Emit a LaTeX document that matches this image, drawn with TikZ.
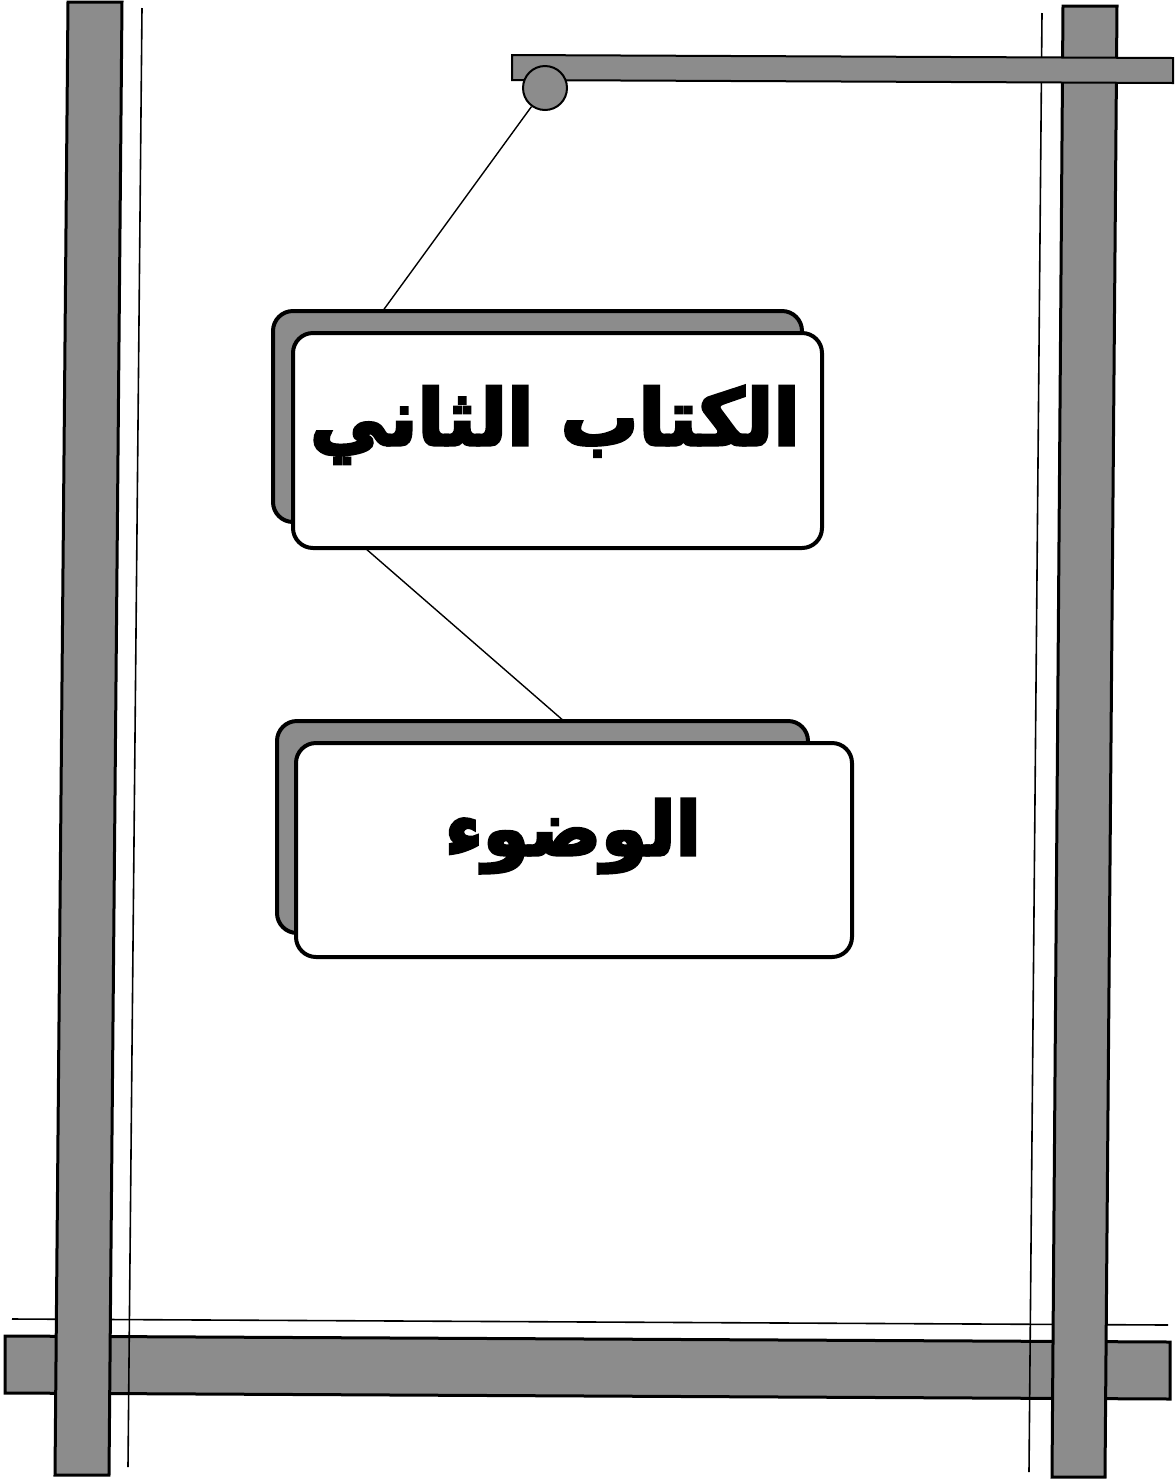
\documentclass[tikz,border=0pt]{standalone}
\usepackage{fontspec}
\newfontfamily\arabicfont[Script=Arabic, FakeBold=4]{DejaVu Sans Bold}
\TeXXeTstate=1
\definecolor{dots}{gray}{0.55}
\tikzset{
  bar/.style={draw=black, line width=1.5pt, fill=dots, line join=miter},
  topbar/.style={draw=black, line width=1pt, fill=dots},
  thin/.style={draw=black, line width=0.8pt},
  backbox/.style={draw=black, line width=2pt, fill=dots, rounded corners=10pt, inner sep=0pt},
  frontbox/.style={draw=black, line width=2pt, fill=white, rounded corners=10pt, inner sep=0pt},
  title/.style={inner sep=0pt},
  link/.style={draw=black, line width=0.7pt}
}
\begin{document}
\begin{tikzpicture}[x=0.5pt,y=-0.5pt]
\useasboundingbox (0,0) rectangle (1174,1479);
\fill[white] (0,0) rectangle (1174,1479);
% bottom horizontal bar
\path[bar] (5,1336) -- (1170,1342) -- (1170,1399) -- (5,1393) -- cycle;
% thin lines
\path[thin] (142,8) -- (128,1467);
\path[thin] (1042,13) -- (1029,1472);
\path[thin] (12,1319) -- (1168,1325);
% vertical bars
\path[bar] (68,2) -- (122,2) -- (109,1475) -- (55,1475) -- cycle;
\path[bar] (1063,6) -- (1117,6) -- (1105,1477) -- (1052,1477) -- cycle;
% top bar
\path[topbar] (512,55) -- (1173,58) -- (1173,83) -- (512,80) -- cycle;
\node (pin) [circle, draw=black, line width=1pt, fill=dots, minimum size=22pt, inner sep=0pt] at (545,88) {};
% connectors
\coordinate (c1) at (382,312);
\coordinate (c2a) at (365,548);
\coordinate (c2b) at (565,722);
\draw[link] (pin) -- (c1);
\draw[link] (c2a) -- (c2b);
% box 1
\node (b1back) [backbox, minimum width=264.5pt, minimum height=105.5pt] at (537.5,416.5) {};
\node (b1front) [frontbox, minimum width=264.5pt, minimum height=107.5pt] at (557.5,440.5) {};
\node (t1) [title] at (555,425) {\resizebox{245pt}{!}{\arabicfont\beginR الكتاب الثاني\endR}};
% box 2
\node (b2back) [backbox, minimum width=265.5pt, minimum height=106pt] at (542.5,827) {};
\node (b2front) [frontbox, minimum width=278pt, minimum height=107pt] at (574,850) {};
\node (t2) [title] at (573,836) {\resizebox{128pt}{!}{\arabicfont\beginR الوضوء\endR}};
\end{tikzpicture}
\end{document}
